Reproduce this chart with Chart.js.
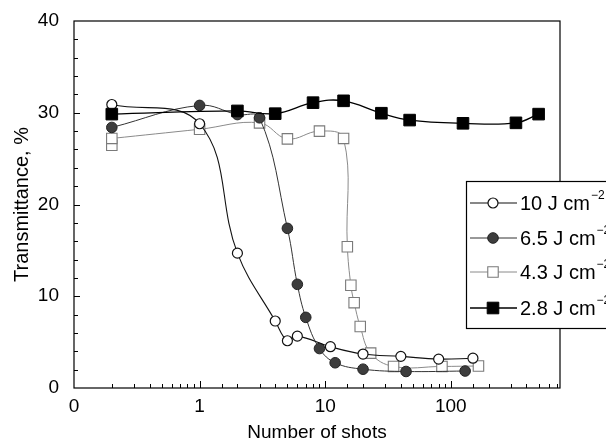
<!DOCTYPE html>
<html>
<head>
<meta charset="utf-8">
<script src="https://cdn.jsdelivr.net/npm/chart.js@4.4.0/dist/chart.umd.min.js"></script>
<style>
  html, body { margin: 0; padding: 0; background: #fff; overflow: hidden; }
  #wrap { width: 606px; height: 443px; position: relative; }
</style>
</head>
<body>
<div id="wrap"><canvas id="chart" width="606" height="443"></canvas></div>
<script>
// Transmittance vs number of shots; "0 shots" is plotted at 0.2 on the log axis
const shots10 = [0.2, 1, 2, 4, 5, 6, 11, 20, 40, 80, 150];
const trans10 = [30.9, 28.8, 14.7, 7.3, 5.15, 5.65, 4.5, 3.7, 3.45, 3.15, 3.25];

const shots65 = [0.2, 1, 2, 3, 5, 6, 7, 9, 12, 20, 44, 130];
const trans65 = [28.4, 30.8, 29.8, 29.45, 17.4, 11.3, 7.7, 4.3, 2.75, 2.05, 1.8, 1.85];

const shots43 = [0.2, 1, 3, 5, 9, 14, 15, 16, 17, 19, 23, 35, 85, 166];
const trans43 = [27.2, 28.2, 28.9, 27.15, 28.0, 27.2, 15.4, 11.2, 9.3, 6.7, 3.8, 2.35, 2.35, 2.4];
// second measurement at 0 shots (not on the curve)
const shots43b = [0.2];
const trans43b = [26.45];

const shots28 = [0.2, 2, 4, 8, 14, 28, 47, 125, 330, 500];
const trans28 = [29.85, 30.2, 29.9, 31.1, 31.3, 29.95, 29.2, 28.85, 28.9, 29.85];

const seriesNames = ['10 J cm', '6.5 J cm', '4.3 J cm', '2.8 J cm'];
const xTickLabels = { '0.1': '0', '1': '1', '10': '10', '100': '100' };
const yLabelStep = 10;

const FONT = "'Liberation Sans', Arial, Helvetica, sans-serif";

function pts(xs, ys) {
    return xs.map((x, i) => ({ x: x, y: ys[i] }));
}

function isDecade(v) {
    const l = Math.log10(v);
    return Math.abs(l - Math.round(l)) < 1e-6;
}

// Frame, inward tick marks and the boxed legend
const framePlugin = {
    id: 'frame',
    afterDraw(chart) {
        const ctx = chart.ctx;
        const a = chart.chartArea;
        const xs = chart.scales.x, ys = chart.scales.y;
        ctx.save();
        ctx.strokeStyle = '#000';
        ctx.lineWidth = 1.2;
        ctx.strokeRect(a.left, a.top, a.right - a.left, a.bottom - a.top);

        ctx.lineWidth = 1;
        ctx.beginPath();
        xs.ticks.forEach(t => {
            if (t.value <= xs.min || t.value >= xs.max) return;
            const px = Math.round(xs.getPixelForValue(t.value)) + 0.5;
            const len = isDecade(t.value) ? 7 : 4;
            ctx.moveTo(px, a.bottom);
            ctx.lineTo(px, a.bottom - len);
        });
        ys.ticks.forEach(t => {
            if (t.value <= ys.min || t.value >= ys.max) return;
            const py = Math.round(ys.getPixelForValue(t.value)) + 0.5;
            const len = t.value % yLabelStep === 0 ? 6 : 4;
            ctx.moveTo(a.left, py);
            ctx.lineTo(a.left + len, py);
        });
        ctx.stroke();

        // legend box, runs off the right edge
        const bx = 466, by = 181, bh = 147;
        ctx.fillStyle = '#fff';
        ctx.fillRect(bx, by, 200, bh);
        ctx.lineWidth = 1.2;
        ctx.strokeRect(bx + 0.5, by + 0.5, 200, bh);

        const rows = [203, 238, 272, 308];
        const items = chart.data.datasets.filter(d => d.legendRow !== undefined);
        items.forEach(ds => {
            const y = rows[ds.legendRow];
            ctx.strokeStyle = ds.borderColor;
            ctx.lineWidth = ds.borderWidth;
            ctx.beginPath();
            ctx.moveTo(470, y);
            ctx.lineTo(517, y);
            ctx.stroke();
            ctx.fillStyle = ds.pointBackgroundColor;
            ctx.strokeStyle = ds.pointBorderColor;
            ctx.lineWidth = ds.pointBorderWidth;
            Chart.helpers.drawPoint(ctx, {
                pointStyle: ds.pointStyle, radius: ds.pointRadius,
                borderWidth: ds.pointBorderWidth, rotation: 0
            }, 493, y);

            ctx.fillStyle = '#000';
            ctx.textBaseline = 'middle';
            ctx.textAlign = 'left';
            ctx.font = '20px ' + FONT;
            const txt = seriesNames[ds.legendRow];
            ctx.fillText(txt, 520, y + 1);
            const w = ctx.measureText(txt).width;
            ctx.font = '12px ' + FONT;
            ctx.fillText('\u22122', 520 + w + 1, y - 7);
        });
        ctx.restore();
    }
};

const ctx = document.getElementById('chart').getContext('2d');
new Chart(ctx, {
    type: 'scatter',
    data: {
        datasets: [
            {
                label: seriesNames[0], legendRow: 0, order: 1,
                data: pts(shots10, trans10), showLine: true, tension: 0.4,
                borderColor: '#111', borderWidth: 1.1,
                pointStyle: 'circle', pointRadius: 5,
                pointBackgroundColor: '#fff', pointBorderColor: '#111', pointBorderWidth: 1.2
            },
            {
                label: seriesNames[1], legendRow: 1, order: 2,
                data: pts(shots65, trans65), showLine: true, tension: 0.4,
                borderColor: '#333', borderWidth: 1,
                pointStyle: 'circle', pointRadius: 5.3,
                pointBackgroundColor: '#3d3d3d', pointBorderColor: '#222', pointBorderWidth: 1
            },
            {
                label: seriesNames[2], legendRow: 2, order: 3,
                data: pts(shots43, trans43), showLine: true, tension: 0.4,
                borderColor: '#8a8a8a', borderWidth: 1,
                pointStyle: 'rect', pointRadius: 7.4,
                pointBackgroundColor: '#fff', pointBorderColor: '#7a7a7a', pointBorderWidth: 1.1
            },
            {
                label: seriesNames[2] + ' (repeat)', order: 3,
                data: pts(shots43b, trans43b), showLine: false,
                pointStyle: 'rect', pointRadius: 7.4,
                pointBackgroundColor: '#fff', pointBorderColor: '#7a7a7a', pointBorderWidth: 1.1
            },
            {
                label: seriesNames[3], legendRow: 3, order: 0,
                data: pts(shots28, trans28), showLine: true, tension: 0.4,
                borderColor: '#000', borderWidth: 1.3,
                pointStyle: 'rect', pointRadius: 8.2,
                pointBackgroundColor: '#000', pointBorderColor: '#000', pointBorderWidth: 1
            }
        ]
    },
    options: {
        responsive: false,
        animation: false,
        layout: { padding: { top: 21, right: 46, left: 0, bottom: 0 } },
        plugins: { legend: { display: false }, tooltip: { enabled: false } },
        scales: {
            x: {
                type: 'logarithmic', min: 0.1, max: 740,
                grid: { display: false }, border: { display: false },
                ticks: {
                    autoSkip: false, maxRotation: 0, padding: 1, color: '#000',
                    font: { family: FONT, size: 19, lineHeight: 1 },
                    callback: v => xTickLabels[String(v)] || ''
                },
                title: {
                    display: true, text: 'Number of shots', color: '#000',
                    font: { family: FONT, size: 19, lineHeight: 1.05 }, padding: 0
                },
                afterFit(scale) { scale.height = 55; }
            },
            y: {
                min: 0, max: 40,
                grid: { display: false }, border: { display: false },
                ticks: {
                    autoSkip: false, stepSize: 2, padding: 7, color: '#000',
                    font: { family: FONT, size: 19, lineHeight: 1 },
                    callback: v => (v % yLabelStep === 0 ? String(v) : '')
                },
                title: {
                    display: true, text: 'Transmittance, %', color: '#000',
                    font: { family: FONT, size: 20, lineHeight: 1.2 },
                    padding: { top: 10, bottom: 0 }
                },
                afterFit(scale) { scale.width = 74; }
            }
        }
    },
    plugins: [framePlugin]
});
</script>
</body>
</html>
